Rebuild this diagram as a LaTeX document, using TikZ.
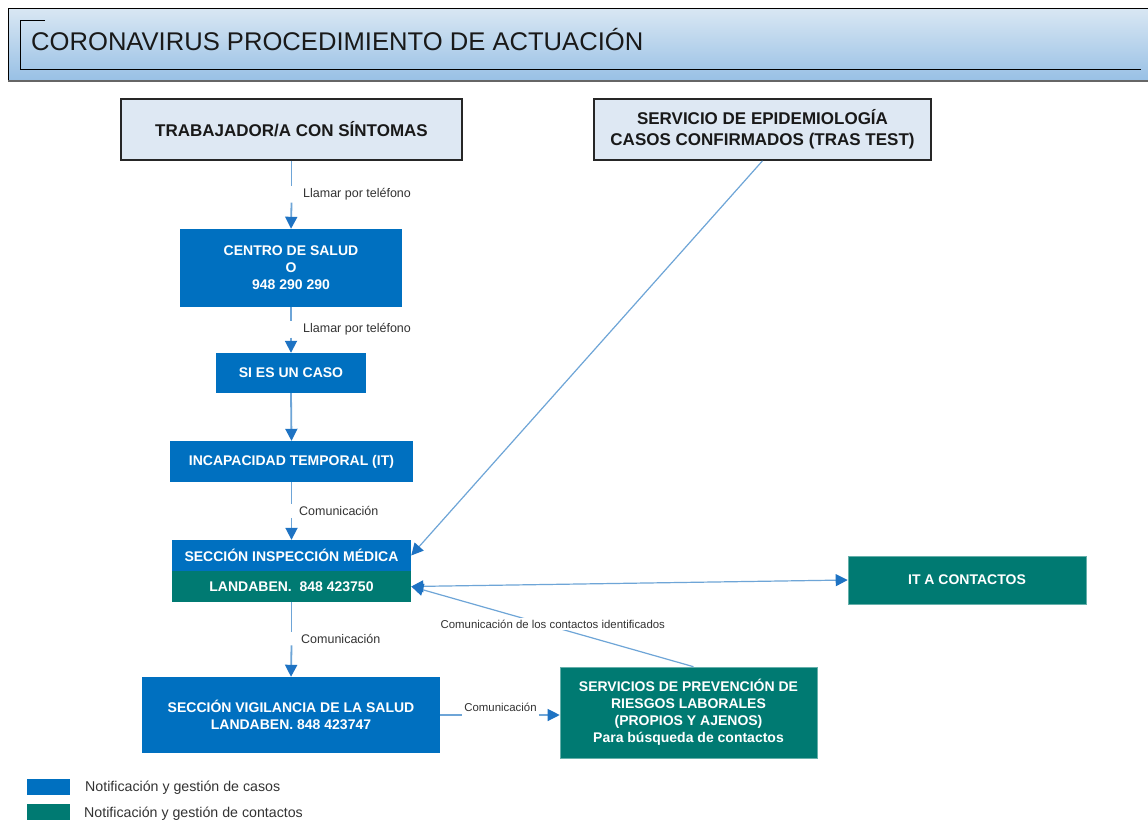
\documentclass[tikz,border=0pt]{standalone}
\usepackage{fontspec}
\setmainfont{Liberation Sans}
\usetikzlibrary{arrows.meta,calc}
\definecolor{cblue}{RGB}{0,112,192}
\definecolor{cgreen}{RGB}{0,122,114}
\definecolor{lineblue}{RGB}{110,165,215}
\definecolor{tipblue}{RGB}{30,115,195}
\definecolor{lightbox}{RGB}{222,232,243}
\definecolor{hdrtop}{RGB}{217,231,243}
\definecolor{hdrbot}{RGB}{152,192,229}
\tikzset{
  topbox/.style={draw=black!85, line width=1.6pt, fill=lightbox, font=\fontsize{17}{21}\selectfont\bfseries, align=center, inner sep=0pt, text=black!90},
  bluebox/.style={fill=cblue, text=white, font=\fontsize{14}{17}\selectfont\bfseries, align=center, inner sep=0pt},
  greenbox/.style={fill=cgreen, draw=cgreen!60!white, line width=0.6pt, text=white, font=\fontsize{14}{17}\selectfont\bfseries, align=center, inner sep=0pt},
  conn/.style={draw=lineblue, line width=1.8pt},
  thinconn/.style={draw=lineblue, line width=1.2pt},
  tip/.tip={Triangle[length=12pt,width=12pt,color=tipblue]},
  arr/.style={conn, -tip},
  thinarr/.style={thinconn, -tip},
  lbl/.style={font=\fontsize{12.5}{15}\selectfont, text=black!80, inner sep=2pt},
  slbl/.style={font=\fontsize{11.4}{14}\selectfont, text=black!80, inner sep=2pt},
  legbox/.style={minimum width=43pt, minimum height=16pt, inner sep=0pt},
  legtxt/.style={font=\fontsize{14.2}{17}\selectfont, text=black!80, anchor=west, inner sep=0pt}
}
\begin{document}
\begin{tikzpicture}[x=1pt,y=-1pt]
\useasboundingbox (0,0) rectangle (1148,822);
\fill[white] (0,0) rectangle (1148,822);
% header
\shade[top color=hdrtop, bottom color=hdrbot] (8,8) rectangle (1152,81);
\draw[black, line width=1pt] (1152,8) -- (8,8) -- (8,81);
\draw[black!60, line width=1.5pt] (8,81) -- (1152,81);
\draw[black, line width=0.9pt] (45,20) -- (20,20) -- (20,69) -- (1141,69);
\node[anchor=base west, inner sep=0pt, font=\fontsize{25.6}{30}\selectfont, text=black!90] (title) at (31,50) {CORONAVIRUS PROCEDIMIENTO DE ACTUACIÓN};
% boxes
\node[topbox, minimum width=341pt, minimum height=61pt] (trab) at (291.5,129.5) {TRABAJADOR/A CON SÍNTOMAS};
\node[topbox, minimum width=337pt, minimum height=61pt] (epi) at (762.5,129.5) {SERVICIO DE EPIDEMIOLOGÍA\\CASOS CONFIRMADOS (TRAS TEST)};
\node[bluebox, minimum width=222pt, minimum height=78pt] (cs) at (291,268) {CENTRO DE SALUD\\O\\948 290 290};
\node[bluebox, minimum width=150pt, minimum height=40pt] (caso) at (291,373) {SI ES UN CASO};
\node[bluebox, minimum width=243pt, minimum height=41pt] (it) at (291.5,461.5) {INCAPACIDAD TEMPORAL (IT)};
\node[bluebox, minimum width=239pt, minimum height=31pt] (inspT) at (291.5,555.5) {SECCIÓN INSPECCIÓN MÉDICA};
\node[greenbox, draw=none, minimum width=239pt, minimum height=31pt] (inspB) at (291.5,586.5) {LANDABEN.\ \ 848 423750};
\node[bluebox, minimum width=298pt, minimum height=76pt] (vig) at (291,715) {SECCIÓN VIGILANCIA DE LA SALUD\\LANDABEN. 848 423747};
\node[greenbox, minimum width=257pt, minimum height=91pt] (prev) at (688.5,712.5) {SERVICIOS DE PREVENCIÓN DE\\RIESGOS LABORALES\\(PROPIOS Y AJENOS)\\Para búsqueda de contactos};
\node[greenbox, minimum width=238pt, minimum height=48pt] (itc) at (967,580) {IT A CONTACTOS};
% labels
\node[lbl, anchor=west] (lab1) at (301,194.5) {Llamar por teléfono};
\node[lbl, anchor=west] (lab2) at (301,329.5) {Llamar por teléfono};
\node[lbl, anchor=west] (lab4) at (297,511) {Comunicación};
\node[lbl, anchor=west] (lab5) at (299,638.5) {Comunicación};
\node[slbl] (lab3) at (500.5,707) {Comunicación};
% connectors
\draw[conn] (trab.south) -- (trab.south |- lab1.north);
\draw[arr] (trab.south |- lab1.south) -- (cs.north);
\draw[conn] (cs.south) -- (cs.south |- lab2.north);
\draw[arr] (cs.south |- lab2.south) -- (caso.north);
\draw[arr] (caso.south) -- (it.north);
\draw[conn] (it.south) -- (it.south |- lab4.north);
\draw[arr] (it.south |- lab4.south) -- (inspT.north);
\draw[conn] (inspB.south) -- (inspB.south |- lab5.north);
\draw[arr] (inspB.south |- lab5.south) -- (vig.north);
\draw[thinconn] (vig.east) -- (vig.east -| lab3.west);
\draw[thinarr] (vig.east -| lab3.east) -- (vig.east -| prev.west);
\draw[thinarr] (epi.south) -- (inspT.east);
\draw[thinconn, tip-tip] (inspB.east) -- (itc.west);
\draw[thinarr] ([xshift=5pt]prev.north) -- node[slbl, fill=white, pos=0.534, xshift=10pt] (lab6) {Comunicación de los contactos identificados} (inspB.east);
% legend
\node[legbox, fill=cblue] (legA) at (48.5,787) {};
\node[legbox, fill=cgreen] (legB) at (48.5,812) {};
\node[legtxt] (legAt) at (85,788) {Notificación y gestión de casos};
\node[legtxt] (legBt) at (84,814) {Notificación y gestión de contactos};
\end{tikzpicture}
\end{document}
